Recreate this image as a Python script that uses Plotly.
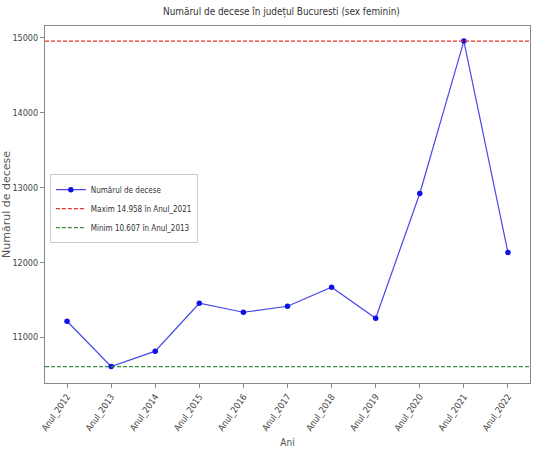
import plotly.graph_objects as go

YEARS = ["Anul_2012", "Anul_2013", "Anul_2014", "Anul_2015", "Anul_2016", "Anul_2017",
         "Anul_2018", "Anul_2019", "Anul_2020", "Anul_2021", "Anul_2022"]
DEATHS = [11213, 10607, 10813, 11453, 11333, 11413, 11667, 11253, 12920, 14958, 12133]

MAX_V = max(DEATHS)
MIN_V = min(DEATHS)
MAX_Y = YEARS[DEATHS.index(MAX_V)]
MIN_Y = YEARS[DEATHS.index(MIN_V)]


def fmt(v):
    return f"{v:,}".replace(",", ".")


FONT = "DejaVu Sans Condensed, Liberation Sans Narrow, DejaVu Sans, sans-serif"

fig = go.Figure()
fig.add_trace(go.Scatter(
    x=YEARS, y=DEATHS, mode="lines+markers", name="Numărul de decese",
    line=dict(color="rgba(40,40,230,0.85)", width=1.2),
    marker=dict(color="#1010e8", size=5.5),
))
fig.add_hline(y=MAX_V, line=dict(color="#e8302a", dash="4px,2px", width=1.2),
              showlegend=True, name=f"Maxim {fmt(MAX_V)} în {MAX_Y}")
fig.add_hline(y=MIN_V, line=dict(color="#3c8a3c", dash="4px,2px", width=1.2),
              showlegend=True, name=f"Minim {fmt(MIN_V)} în {MIN_Y}")

axis = dict(showline=True, linecolor="#888", linewidth=1, mirror=True,
            ticks="outside", ticklen=4, tickcolor="#888", showgrid=False,
            zeroline=False, automargin=False,
            tickfont=dict(size=9, color="#444", family=FONT))
fig.update_xaxes(**axis, tickangle=-55, range=[-0.5, 10.5],
                 title=dict(text="Ani", font=dict(size=10, color="#555", family=FONT), standoff=6))
fig.update_yaxes(**axis, range=[10387, 15160], tickvals=[11000, 12000, 13000, 14000, 15000],
                 tickformat="d",
                 title=dict(text="Numărul de decese", font=dict(size=11, color="#555", family="DejaVu Sans"), standoff=4))

fig.update_layout(
    width=535, height=462,
    paper_bgcolor="white", plot_bgcolor="white",
    title=dict(text="Numărul de decese în județul Bucuresti (sex feminin)", x=0.526, xanchor="center",
               y=0.974, yanchor="middle", automargin=False,
               font=dict(size=9.9, color="#333", family=FONT)),
    margin=dict(l=45, r=5, t=26, b=79),
    showlegend=True,
    legend=dict(x=0.01, y=0.585, xanchor="left", yanchor="top", bgcolor="white",
                bordercolor="#ccc", borderwidth=1, font=dict(size=8, color="#333", family=FONT),
                tracegroupgap=0, itemwidth=30),
)

# drop the browser's default 8px body margin so the figure sits at the window corner
fig.write_html("out.html", config={"displayModeBar": False},
               post_script="document.body.style.margin='0';")
